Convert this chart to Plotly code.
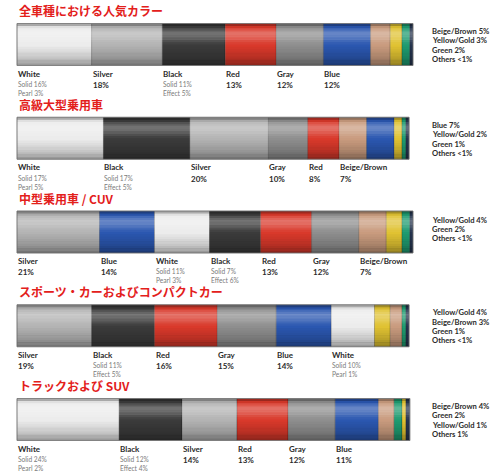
import plotly.graph_objects as go

# ---------------- data ----------------
titles = ["全車種における人気カラー", "高級大型乗用車", "中型乗用車 / CUV",
          "スポーツ・カーおよびコンパクトカー", "トラックおよび SUV"]

r1_names = ["White", "Silver", "Black", "Red", "Gray", "Blue", "Beige/Brown", "Yellow/Gold", "Green", "Others"]
r1_values = [19, 18, 16, 13, 12, 12, 5, 3, 2, 0.8]
r1_pct = ["19%", "18%", "16%", "13%", "12%", "12%", "5%", "3%", "2%", "<1%"]
r1_sub = [["Solid 16%", "Pearl 3%"], None, ["Solid 11%", "Effect 5%"], None, None, None, None, None, None, None]
r1_below = 6

r2_names = ["White", "Black", "Silver", "Gray", "Red", "Beige/Brown", "Blue", "Yellow/Gold", "Green", "Others"]
r2_values = [22, 22, 20, 10, 8, 7, 7, 2, 1, 0.8]
r2_pct = ["22%", "22%", "20%", "10%", "8%", "7%", "7%", "2%", "1%", "<1%"]
r2_sub = [["Solid 17%", "Pearl 5%"], ["Solid 17%", "Effect 5%"], None, None, None, None, None, None, None, None]
r2_below = 6

r3_names = ["Silver", "Blue", "White", "Black", "Red", "Gray", "Beige/Brown", "Yellow/Gold", "Green", "Others"]
r3_values = [21, 14, 14, 13, 13, 12, 7, 4, 2, 0.8]
r3_pct = ["21%", "14%", "14%", "13%", "13%", "12%", "7%", "4%", "2%", "<1%"]
r3_sub = [None, None, ["Solid 11%", "Pearl 3%"], ["Solid 7%", "Effect 6%"], None, None, None, None, None, None]
r3_below = 7

r4_names = ["Silver", "Black", "Red", "Gray", "Blue", "White", "Yellow/Gold", "Beige/Brown", "Green", "Others"]
r4_values = [19, 16, 16, 15, 14, 11, 4, 3, 1, 0.8]
r4_pct = ["19%", "16%", "16%", "15%", "14%", "11%", "4%", "3%", "1%", "<1%"]
r4_sub = [None, ["Solid 11%", "Effect 5%"], None, None, None, ["Solid 10%", "Pearl 1%"], None, None, None, None]
r4_below = 6

r5_names = ["White", "Black", "Silver", "Red", "Gray", "Blue", "Beige/Brown", "Green", "Yellow/Gold", "Others"]
r5_values = [26, 16, 14, 13, 12, 11, 4, 2, 1, 1]
r5_pct = ["26%", "16%", "14%", "13%", "12%", "11%", "4%", "2%", "1%", "1%"]
r5_sub = [["Solid 24%", "Pearl 2%"], ["Solid 12%", "Effect 4%"], None, None, None, None, None, None, None, None]
r5_below = 6

rows = [
    (r1_names, r1_values, r1_pct, r1_sub, r1_below),
    (r2_names, r2_values, r2_pct, r2_sub, r2_below),
    (r3_names, r3_values, r3_pct, r3_sub, r3_below),
    (r4_names, r4_values, r4_pct, r4_sub, r4_below),
    (r5_names, r5_values, r5_pct, r5_sub, r5_below),
]

# ---------------- styles ----------------
colors = {
    "White": "#ececec", "Silver": "#b3b3b3", "Black": "#3b3b3b", "Red": "#d9392b",
    "Gray": "#8e8e8e", "Blue": "#2b57b0", "Beige/Brown": "#c99b7e", "Yellow/Gold": "#e0c232",
    "Green": "#1e9b70", "Others": "#263550",
}
BAR_W = 0.448
LABEL_FONT = "Lato, 'Open Sans', sans-serif"
TITLE_FONT = "'Noto Sans CJK JP', sans-serif"

fig = go.Figure()

# segments
nseg = len(r1_names)
for k in range(nseg):
    xs, bases, cols, ys, txt = [], [], [], [], []
    for i, (names, values, pct, sub, nb) in enumerate(rows):
        xs.append(values[k])
        bases.append(sum(values[:k]))
        cols.append(colors[names[k]])
        ys.append(i)
        txt.append(f"{names[k]} {pct[k]}")
    fig.add_trace(go.Bar(
        x=xs, y=ys, base=bases, orientation="h", width=BAR_W,
        marker=dict(color=cols, line=dict(width=0.6, color="rgba(0,0,0,0.3)")),
        hovertext=txt, hoverinfo="text", showlegend=False,
    ))

# cylinder shading (smooth vertical profile, top -> bottom)
totals = [sum(r[1]) for r in rows]
ys_all = list(range(len(rows)))
profile = [-0.28, -0.05, 0.12, 0.22, 0.28, 0.26, 0.18, 0.10, 0.04, 0.0,
           -0.03, -0.06, -0.09, -0.12, -0.16, -0.21, -0.27, -0.35]
nb_ = len(profile)
for j, a in enumerate(profile):
    if a == 0:
        continue
    c = f"rgba(255,255,255,{a:.2f})" if a > 0 else f"rgba(0,0,0,{-a:.2f})"
    fig.add_trace(go.Bar(
        x=totals, y=ys_all, base=[0] * len(totals), orientation="h",
        width=BAR_W / nb_ * 1.02, offset=-BAR_W / 2 + BAR_W * j / nb_,
        marker=dict(color=c, line=dict(width=0)),
        hoverinfo="skip", showlegend=False,
    ))
# outline
fig.add_trace(go.Bar(
    x=totals, y=ys_all, base=[0] * len(totals), orientation="h", width=BAR_W,
    marker=dict(color="rgba(0,0,0,0)", line=dict(width=0.8, color="#7a7a7a")),
    hoverinfo="skip", showlegend=False,
))

ann = []
for i, (names, values, pct, sub, nb) in enumerate(rows):
    # title
    ann.append(dict(x=17 / 500, xref="paper", y=i, yref="y", yshift=34,
                    text=f"<b>{titles[i]}</b>", showarrow=False, xanchor="left", yanchor="middle",
                    font=dict(family=TITLE_FONT, size=12, color="#e3201b")))
    # labels below bar
    for k in range(nb):
        x0 = sum(values[:k])
        ann.append(dict(x=x0, y=i, yshift=-29, text=f"<b>{names[k]}</b>", showarrow=False,
                        xanchor="left", yanchor="middle", borderpad=0,
                        font=dict(family=LABEL_FONT, size=8, color="#2b2b2b")))
        if sub[k] is None:
            ann.append(dict(x=x0, y=i, yshift=-34.3, text=f"<b>{pct[k]}</b>", showarrow=False,
                            xanchor="left", yanchor="top", borderpad=0,
                            font=dict(family=LABEL_FONT, size=8, color="#2b2b2b")))
        else:
            ann.append(dict(x=x0, y=i, yshift=-34.3, text="<br>".join(sub[k]), showarrow=False,
                            xanchor="left", yanchor="top", align="left", borderpad=0,
                            font=dict(family=LABEL_FONT, size=6.6, color="#7a7a7a")))
    # list on the right
    rest = list(range(nb, len(names)))
    top = 13.5 if len(rest) >= 4 else 12.5
    for j, k in enumerate(rest):
        ann.append(dict(x=431 / 500, xref="paper", y=i, yshift=top - 9.4 * j,
                        text=f"<b>{names[k]} {pct[k]}</b>", showarrow=False,
                        xanchor="left", yanchor="middle", borderpad=0,
                        font=dict(family=LABEL_FONT, size=7.6, color="#2b2b2b")))

px_per_unit = 396 / totals[0]
fig.update_layout(
    width=500, height=472, margin=dict(l=0, r=0, t=0, b=0),
    paper_bgcolor="white", plot_bgcolor="white", barmode="overlay",
    xaxis=dict(range=[-17 / px_per_unit, (500 - 17) / px_per_unit], visible=False, fixedrange=True),
    yaxis=dict(range=[(472 - 44.5) / 93.75, -44.5 / 93.75], visible=False, fixedrange=True),
    annotations=ann, showlegend=False,
)
fig.write_html("out.html", config={"displayModeBar": False},
               post_script="document.body.style.margin='0';")
